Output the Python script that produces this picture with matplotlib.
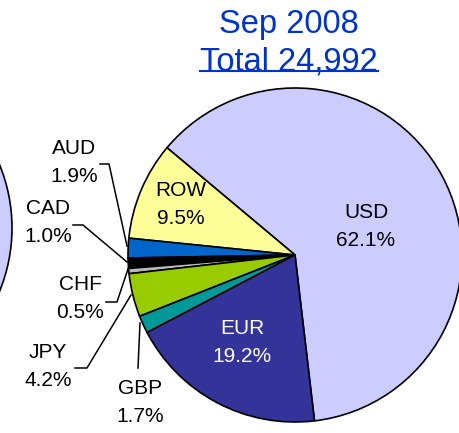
import matplotlib
matplotlib.use("Agg")
import matplotlib.pyplot as plt

plt.rcParams['font.family'] = ['Liberation Sans', 'DejaVu Sans']

# data (Sep 2008, total 24,992)
moedas = ['USD', 'ROW', 'AUD', 'CAD', 'CHF', 'JPY', 'GBP', 'EUR']
percentuais = [62.1, 9.5, 1.9, 1.0, 0.5, 4.2, 1.7, 19.2]
cores = ['#CCCCFF', '#FFFF99', '#0066CC', '#000000', '#BBBBBB', '#99CC00', '#009999', '#333399']
titulo = 'Sep 2008'
subtitulo = 'Total 24,992'

W, H = 459, 433
fig = plt.figure(figsize=(W / 100, H / 100), dpi=100)
ax = fig.add_axes([0, 0, 1, 1])

# pedaço do gráfico anterior (cortado na borda esquerda)
ax.pie([1], colors=['#CCCCFF'], center=(-155, H - 228), radius=167,
       wedgeprops=dict(edgecolor='black', linewidth=1.2))

# gráfico principal
cx, cy, r = 295, H - 255, 167
ax.pie(percentuais, colors=cores, center=(cx, cy), radius=r,
       startangle=-83.3, counterclock=True,
       wedgeprops=dict(edgecolor='black', linewidth=1.2))

ax.set_xlim(0, W)
ax.set_ylim(0, H)
ax.set_aspect('auto')
ax.axis('off')

fs = 15
def rotulo(x, y, nome, pct, cor='black'):
    ax.text(x, H - y, nome + '\n' + '%.1f%%' % pct, ha='center', va='center',
            fontsize=fs, color=cor, linespacing=1.6)

# rótulos internos
rotulo(366, 226, moedas[0], percentuais[0])
rotulo(181, 205, moedas[1], percentuais[1])
rotulo(242, 343, moedas[7], percentuais[7], cor='white')

# rótulos externos
rotulo(74, 163, moedas[2], percentuais[2])
rotulo(48, 222, moedas[3], percentuais[3])
rotulo(80, 299, moedas[4], percentuais[4])
rotulo(48, 366, moedas[5], percentuais[5])
rotulo(140, 402, moedas[6], percentuais[6])

# linhas de chamada
linhas = [
    [(100, 164), (109, 164), (127, 246)],
    [(73, 225), (83, 225), (127, 262)],
    [(106, 302), (117, 302), (128, 269)],
    [(75, 368), (87, 368), (131, 295)],
    [(138, 368), (140, 323)],
]
for pts in linhas:
    ax.plot([p[0] for p in pts], [H - p[1] for p in pts], color='black', linewidth=1.1)

# título
ax.text(289, H - 25, titulo, ha='center', va='center', fontsize=23.5, color='#0033CC')
ax.text(289, H - 62, subtitulo, ha='center', va='center', fontsize=23.5, color='#0033CC')
ax.plot([200, 378], [H - 71, H - 71], color='#0033CC', linewidth=1.5)

fig.savefig('out.png', dpi=100)
